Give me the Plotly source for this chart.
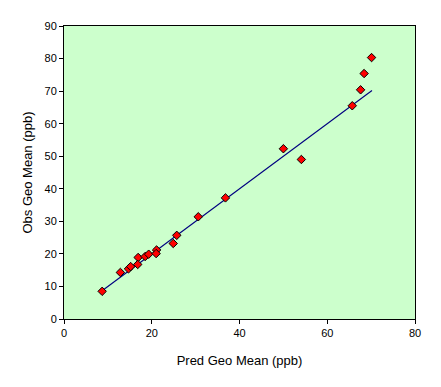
import plotly.graph_objects as go

pred = [8.7, 12.85, 14.7, 15.2, 16.9, 16.8, 18.5, 19.3, 21.1, 21.0, 24.9, 25.7,
        30.6, 36.8, 50.0, 54.1, 65.7, 67.6, 68.4, 70.1]
obs = [8.5, 14.3, 15.4, 16.1, 18.9, 16.75, 19.2, 19.9, 21.2, 20.1, 23.2, 25.7,
       31.4, 37.2, 52.3, 49.0, 65.5, 70.4, 75.4, 80.3]
line_x = [8.3, 70.2]
line_y = [8.3, 70.2]

fig = go.Figure()
fig.add_trace(go.Scatter(x=line_x, y=line_y, mode="lines",
                         line=dict(color="#000080", width=1.1), hoverinfo="skip"))
fig.add_trace(go.Scatter(x=pred, y=obs, mode="markers",
                         marker=dict(symbol="diamond", size=6.5, color="#FF0000",
                                     line=dict(color="black", width=1))))

axis_common = dict(showgrid=False, zeroline=False, showline=True, linecolor="black",
                   linewidth=1, mirror=True, ticks="outside", ticklen=4,
                   tickcolor="black", tickfont=dict(family="Liberation Sans, Arial", size=11, color="black"))
fig.update_layout(
    width=433, height=379,
    margin=dict(l=56, r=26, t=18, b=68),
    paper_bgcolor="white", plot_bgcolor="#CCFFCC",
    showlegend=False,
    font=dict(family="Liberation Sans, Arial", size=11, color="black"),
    xaxis=dict(range=[0, 80], dtick=20, title=dict(text="Pred Geo Mean (ppb)", standoff=17), **axis_common),
    yaxis=dict(range=[0, 90], dtick=10, title=dict(text="Obs Geo Mean (ppb)", standoff=8), **axis_common),
)
fig.write_html("out.html")
